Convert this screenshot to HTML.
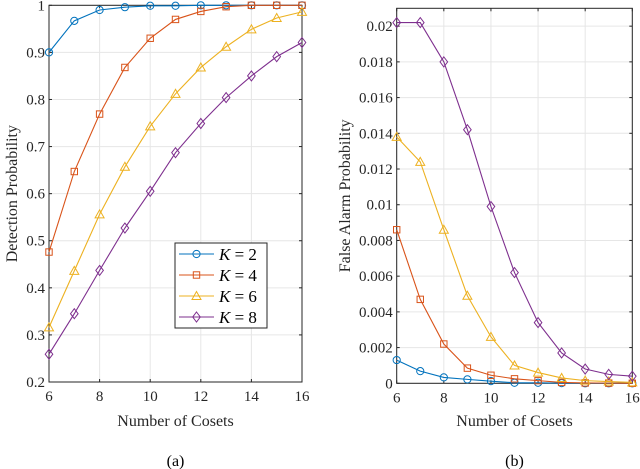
<!DOCTYPE html>
<html><head><meta charset="utf-8"><style>
body{margin:0;background:#fff;}
svg{display:block;}
svg text{font-family:"Liberation Serif",serif;}
</style></head><body>
<svg id="c" width="640" height="469"></svg>
<script>
const cosets=[6,7,8,9,10,11,12,13,14,15,16];
const pdK2=[.9,.967,.99,.996,.999,.999,1,1,1,1,1];
const pdK4=[.476,.647,.769,.868,.93,.97,.987,.997,1,1,1];
const pdK6=[.316,.436,.556,.657,.743,.812,.868,.912,.949,.973,.986];
const pdK8=[.259,.345,.437,.527,.605,.687,.749,.804,.85,.891,.921];
const faK2=[.0013,.00068,.00033,.00022,.00012,.00003,.00003,.00001,0,0,0];
const faK4=[.0086,.0047,.0022,.00085,.00045,.00025,.00015,.00005,.00002,.00001,0];
const faK6=[.0138,.0124,.0086,.0049,.0026,.001,.0006,.0003,.00015,.0001,.00005];
const faK8=[.0202,.0202,.018,.0142,.0099,.0062,.0034,.0017,.0008,.0005,.0004];
const xTicks=[6,8,10,12,14,16];
const leftYTicks=[0.2,0.3,0.4,0.5,0.6,0.7,0.8,0.9,1];
const rightYTicks=[0,0.002,0.004,0.006,0.008,0.01,0.012,0.014,0.016,0.018,0.02];
const seriesNames=["K = 2","K = 4","K = 6","K = 8"];
const colors=["#0072BD","#D95319","#EDB120","#7E2F8E"];
const markers=["circle","square","triangle","diamond"];
const svg=document.getElementById('c');
const NS="http://www.w3.org/2000/svg";
const FF="Liberation Serif, serif";
function mk(t,a,p){const e=document.createElementNS(NS,t);for(const k in a)e.setAttribute(k,a[k]);if(t=='text')e.setAttribute('font-family',FF);(p||svg).appendChild(e);return e;}
function marker(g,m,x,y,c){
 let e;
 if(m=="circle")e=mk('circle',{cx:x,cy:y,r:3.6,fill:'none',stroke:c},g);
 else if(m=="square")e=mk('rect',{x:x-3.2,y:y-3.2,width:6.4,height:6.4,fill:'none',stroke:c},g);
 else if(m=="triangle")e=mk('polygon',{points:`${x},${y-4.5} ${x-4.5},${y+3.5} ${x+4.5},${y+3.5}`,fill:'none',stroke:c},g);
 else e=mk('polygon',{points:`${x},${y-5} ${x+3.8},${y} ${x},${y+5} ${x-3.8},${y}`,fill:'none',stroke:c},g);
 
 
}
function panel(name,L,R,T,B,ymin,ymax,yt,fmt,data,ylab,lab,labx){
 const g=mk('g',{});
 
 
 const sx=v=>L+(v-6)/(16-6)*(R-L);
 const sy=v=>B-(v-ymin)/(ymax-ymin)*(B-T);
 xTicks.forEach(t=>{mk('line',{x1:sx(t),x2:sx(t),y1:T,y2:B,stroke:'#e6e6e6','stroke-width':1},g);});
 yt.forEach(t=>{mk('line',{x1:L,x2:R,y1:sy(t),y2:sy(t),stroke:'#e6e6e6','stroke-width':1},g);});
 mk('rect',{x:L,y:T,width:R-L,height:B-T,fill:'none',stroke:'#262626','stroke-width':1},g);
 xTicks.forEach(t=>{
  mk('line',{x1:sx(t),x2:sx(t),y1:B,y2:B-3,stroke:'#262626'},g);mk('line',{x1:sx(t),x2:sx(t),y1:T,y2:T+3,stroke:'#262626'},g);
  const tx=mk('text',{x:sx(t),y:B+19,'text-anchor':'middle','font-size':15,fill:'#262626'},g);tx.textContent=t;
  
 });
 yt.forEach(t=>{
  mk('line',{x1:L,x2:L+3,y1:sy(t),y2:sy(t),stroke:'#262626'},g);mk('line',{x1:R,x2:R-3,y1:sy(t),y2:sy(t),stroke:'#262626'},g);
  const tx=mk('text',{x:L-4,y:sy(t)+5,'text-anchor':'end','font-size':15,fill:'#262626'},g);tx.textContent=fmt(t);
  
 });
 data.forEach((d,i)=>{
  const s=mk('g',{},g);
  
  
  mk('polyline',{points:cosets.map((x,j)=>sx(x)+','+sy(d[j])).join(' '),fill:'none',stroke:colors[i],'stroke-width':1.1},s);
  cosets.forEach((x,j)=>marker(s,markers[i],sx(x),sy(d[j]),colors[i]));
 });
 const xl=mk('text',{x:(L+R)/2,y:426,'text-anchor':'middle','font-size':16,fill:'#262626'},g);xl.textContent='Number of Cosets';
 
 const yl=mk('text',{x:0,y:0,transform:`translate(${labx},${(T+B)/2}) rotate(-90)`,'text-anchor':'middle','font-size':16,fill:'#262626'},g);yl.textContent=ylab;
 
 const cl=mk('text',{x:(L+R)/2,y:466,'text-anchor':'middle','font-size':16,fill:'#000'},g);cl.textContent=lab;
 
}
panel('detection-panel',49,302,5.3,382,0.2,1,leftYTicks,t=>String(t),[pdK2,pdK4,pdK6,pdK8],'Detection Probability','(a)',17);
panel('false-alarm-panel',396.7,632.3,8.3,383.3,0,0.021,rightYTicks,t=>String(+t.toFixed(3)),[faK2,faK4,faK6,faK8],'False Alarm Probability','(b)',350);
const lg=mk('g',{});


mk('rect',{x:175,y:243,width:92,height:85,fill:'#fff',stroke:'#262626'},lg);
seriesNames.forEach((n,i)=>{
 const y=254+i*21;
 const e=mk('g',{},lg);
 
 
 mk('line',{x1:179,x2:214,y1:y,y2:y,stroke:colors[i],'stroke-width':1.1},e);
 marker(e,markers[i],196.5,y,colors[i]);
 const t=mk('text',{x:219,y:y+6,'font-size':17,fill:'#000'},e);
 t.innerHTML='<tspan font-style="italic">K</tspan> = '+(2*i+2);
});
</script>
</body></html>
